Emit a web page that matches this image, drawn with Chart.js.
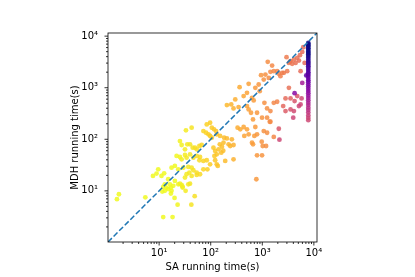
<!DOCTYPE html>
<html>
<head>
<meta charset="utf-8">
<script src="https://cdn.jsdelivr.net/npm/chart.js@4"></script>
<style>
  html, body { margin: 0; padding: 0; background: #fff; }
</style>
</head>
<body>
<canvas id="scatterChart" width="415" height="277"></canvas>
<script>
// SA vs MDH running time (seconds)
const saTimes = [
  11.5, 12.9, 15.0, 16.9, 19.9, 22.8, 48.9, 42.1, 5.4, 1.52, 1.66, 12.0, 18.2, 32.6, 28.5,
  7.6, 8.9, 9.6, 11.1, 12.5, 15.0, 16.2, 20.2, 23.5, 27.3, 31.7, 34.1, 38.5, 42.7, 53.5, 62.1,
  12.9, 12.0, 13.9, 16.9, 17.4, 18.8, 25.3, 28.5, 36.8, 39.7,
  17.4, 20.2, 23.5, 29.4, 36.8, 42.7, 46.1, 53.5, 72.1, 86.3,
  21.8, 25.3, 27.3, 31.7, 34.1, 39.7, 46.1, 53.5, 62.1, 60.3, 72.1, 83.8, 97.3, 122, 131, 137, 191, 277,
  791, 989, 767, 113, 122, 131, 118, 142, 160, 175, 150, 165,
  97.3, 83.8, 105, 116, 127, 72.1, 81.3, 90.4, 97.3, 105, 33.1, 42.7,
  131, 152, 182, 206, 177, 222, 239, 277, 257,
  332, 374, 435, 505, 448, 544, 733, 791, 702, 1067, 1239, 1438, 2090, 1670, 2150,
  632, 661, 975, 1019, 1184,
  39.7, 44.7, 49.6, 53.5, 60.3, 66.9, 35.2, 25.3, 27.3, 31.7,
  363, 544, 733, 505, 435, 632, 681, 206, 250, 299, 277, 347, 891,
  3280, 4760, 5780, 4230, 3530, 2820, 2540, 2820, 3530, 4100, 3980, 5130, 5530,
  1670, 1940, 1099, 1239, 1438, 4230, 505, 544, 604, 661, 791, 989, 1239, 1396,
  6230, 5370, 4760, 4100, 3530, 3280, 2950, 3430, 5960, 6620, 5130, 4420, 3800, 5530, 7130, 5960,
  1276, 1550, 1670, 1438, 1334, 1149, 946, 852, 1067, 1940, 2430, 2250, 2090, 2620, 3040
];
const mdhTimes = [
  9.7, 10.0, 10.8, 8.9, 7.3, 5.4, 7.9, 5.4, 7.5, 6.9, 8.6, 3.1, 3.1, 10.0, 11.6,
  19.5, 21.6, 26.2, 19.5, 21.9, 16.8, 13.4, 15.6, 13.4, 13.0, 18.1, 21.0, 22.6, 19.5, 20.4, 21.0,
  13.4, 11.9, 11.6, 11.6, 10.0, 12.5, 13.8, 12.1, 13.4, 13.8,
  28.2, 30.4, 26.2, 28.2, 29.1, 28.2, 25.1, 22.6, 26.2, 26.2,
  47.5, 45.4, 40.9, 49.6, 44.0, 51.1, 44.0, 47.5, 45.4, 39.2, 38.0, 39.2, 32.7, 39.2, 32.7, 30.4, 38.0, 40.9,
  48.9, 48.9, 16.8, 68.8, 59.3, 51.1, 47.5, 63.9, 55, 60, 80, 72,
  209, 194, 168, 156, 144, 144, 134, 125, 116, 107, 149, 168,
  125, 116, 107, 104, 85.9, 79.8, 74.1, 77.5, 99.7,
  168, 156, 173, 156, 116, 125, 173, 125, 116, 144, 134, 219, 160, 111, 98.2,
  85.9, 79.8, 89.9, 74.1, 74.1,
  79.8, 68.8, 68.8, 63.9, 74.1, 77.5, 79.8, 92.5, 77.5, 63.9,
  1025, 1190, 996, 796, 687, 637, 566, 460, 474, 592, 396, 421, 858,
  996, 687, 619, 550, 619, 619, 440, 352, 379, 352, 262, 440, 474,
  510, 534, 510, 396, 352, 785, 440, 379, 327, 243, 327, 262, 262, 219,
  6090, 4270, 3790, 3520, 3270, 3030, 3900, 3170, 4950, 3030, 3360, 3030, 2900, 2090, 1730, 1240,
  3170, 2690, 2090, 2030, 1550, 1800, 1750, 1155, 1440, 2090, 1940, 1670, 1860, 1940, 2090
];

// runs that hit the SA time limit (vertical column on the right)
const timeoutSA = 7800;
const timeoutMdh = [
  7400, 7000, 6600, 6200, 5800, 5400, 5000, 4700, 4400, 4100, 3800, 3500, 3200, 3000,
  2800, 2600, 2400, 2200, 2000, 1850, 1700, 1550, 1400, 1280, 1150, 1050, 950, 860,
  780, 700, 630, 570, 510, 460, 410, 370, 330, 290, 260, 235
];

const axisMin = 1.02;
const axisMax = 11500;
const tickValues = [10, 100, 1000, 10000];
const tickLabels = ['10¹', '10²', '10³', '10⁴'];
const xTitle = 'SA running time(s)';
const yTitle = 'MDH running time(s)';

Chart.defaults.font.family = "'DejaVu Sans', sans-serif";
Chart.defaults.font.size = 10;
Chart.defaults.color = '#000';

// plasma colormap stops
const plasmaStops = ['#0d0887', '#41049d', '#6a00a8', '#8f0da4', '#b12a90', '#cc4778',
  '#e16462', '#f2844b', '#fca636', '#fcce25', '#f0f921'];

function hexToRgb(h) {
  return [parseInt(h.slice(1, 3), 16), parseInt(h.slice(3, 5), 16), parseInt(h.slice(5, 7), 16)];
}

function plasma(t, alpha) {
  t = Math.max(0, Math.min(1, t));
  const pos = t * 10;
  const i = Math.min(9, Math.floor(pos));
  const f = pos - i;
  const a = hexToRgb(plasmaStops[i]);
  const b = hexToRgb(plasmaStops[i + 1]);
  const c = a.map((v, k) => Math.round(v + (b[k] - v) * f));
  return `rgba(${c[0]}, ${c[1]}, ${c[2]}, ${alpha})`;
}

function pointColor(p) {
  if (!p) return plasma(1, 0.85);
  const lx = Math.log10(p.x), ly = Math.log10(p.y);
  if (p.x >= 7000) {
    // timeout column: blue at the top, pink at the bottom
    return plasma(0.52 - (ly - 2.35) * 0.4, 0.85);
  }
  if (p.x > 3500 && p.y > 700 && p.y < 1400) {
    // the two odd purple/magenta runs
    return plasma(p.y < 1000 ? 0.28 : 0.36, 0.85);
  }
  let t = 1 - 0.15 * (lx - 1.3);
  if (p.x > 2000) t -= 0.2 * Math.max(0, Math.min(1, lx - ly - 0.4));
  return plasma(t, 0.85);
}

const points = saTimes.map((x, i) => ({ x: x, y: mdhTimes[i] }))
  .concat(timeoutMdh.map(y => ({ x: timeoutSA, y: y })));

// frame + major/minor tick marks like matplotlib
const framePlugin = {
  id: 'frame',
  afterDraw(chart) {
    const { ctx, chartArea: a, scales } = chart;
    ctx.save();
    ctx.strokeStyle = '#000';
    ctx.lineWidth = 0.8;
    ctx.strokeRect(a.left, a.top, a.right - a.left, a.bottom - a.top);

    for (let e = 0; e <= 4; e++) {
      for (let m = 1; m <= 9; m++) {
        const v = m * Math.pow(10, e);
        if (v < axisMin || v > axisMax) continue;
        const len = m === 1 ? 3.5 : 2;
        const px = scales.x.getPixelForValue(v);
        const py = scales.y.getPixelForValue(v);
        ctx.beginPath();
        ctx.moveTo(px, a.bottom);
        ctx.lineTo(px, a.bottom + len);
        ctx.moveTo(a.left, py);
        ctx.lineTo(a.left - len, py);
        ctx.stroke();
      }
    }
    ctx.restore();
  }
};

function setTicks(scale) {
  scale.ticks = tickValues.map(v => ({ value: v }));
}

function tickLabel(value) {
  const i = tickValues.indexOf(value);
  return i >= 0 ? tickLabels[i] : '';
}

new Chart(document.getElementById('scatterChart'), {
  type: 'scatter',
  data: {
    datasets: [
      {
        type: 'line',
        data: [{ x: axisMin, y: axisMin }, { x: axisMax, y: axisMax }],
        borderColor: '#1f77b4',
        borderWidth: 1.5,
        borderDash: [5.5, 2.4],
        pointRadius: 0,
        fill: false,
        order: 0
      },
      {
        data: points,
        pointRadius: 2.4,
        pointBorderWidth: 0,
        pointBackgroundColor: ctx => pointColor(ctx.raw),
        order: 1
      }
    ]
  },
  options: {
    responsive: false,
    animation: false,
    devicePixelRatio: 1,
    layout: { padding: { left: 0, top: 33, right: 98, bottom: 0 } },
    plugins: { legend: { display: false }, tooltip: { enabled: false } },
    scales: {
      x: {
        type: 'logarithmic',
        min: axisMin,
        max: axisMax,
        afterBuildTicks: setTicks,
        afterFit: s => { s.height = 35; },
        grid: { display: false, drawTicks: false },
        border: { display: false },
        ticks: { autoSkip: false, maxRotation: 0, padding: 5, callback: tickLabel },
        title: { display: true, text: xTitle, padding: { top: 0, bottom: 4 } }
      },
      y: {
        type: 'logarithmic',
        min: axisMin,
        max: axisMax,
        afterBuildTicks: setTicks,
        afterFit: s => { s.width = 108; },
        grid: { display: false, drawTicks: false },
        border: { display: false },
        ticks: { autoSkip: false, padding: 10, callback: tickLabel },
        title: { display: true, text: yTitle, padding: { top: 69, bottom: 0 } }
      }
    }
  },
  plugins: [framePlugin]
});
</script>
</body>
</html>
